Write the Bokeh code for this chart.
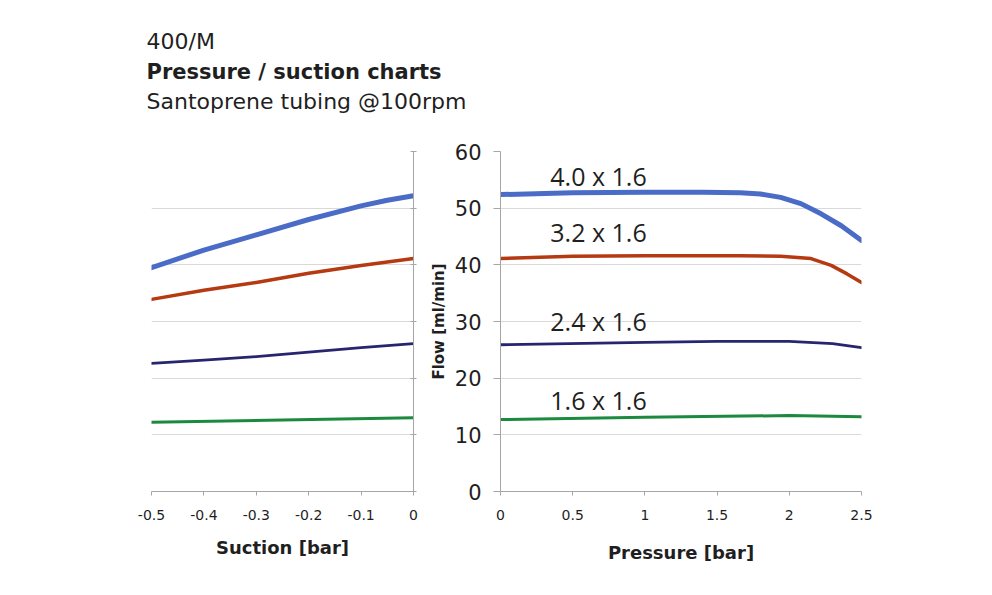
from bokeh.plotting import figure
from bokeh.layouts import row, column
from bokeh.models import Range1d, FixedTicker
from bokeh.core.properties import value
from bokeh.embed import file_html
from bokeh.resources import INLINE

# Suction chart data (left)
suction_x_blue = [-0.5, -0.4, -0.3, -0.2, -0.1, -0.05, 0.0]
suction_blue = [39.5, 42.6, 45.3, 48.0, 50.4, 51.4, 52.2]
suction_x_red = [-0.5, -0.4, -0.3, -0.2, -0.1, 0.0]
suction_red = [33.9, 35.5, 36.9, 38.5, 39.9, 41.1]
suction_x_navy = [-0.5, -0.4, -0.3, -0.2, -0.1, 0.0]
suction_navy = [22.6, 23.2, 23.8, 24.6, 25.4, 26.1]
suction_x_green = [-0.5, -0.25, 0.0]
suction_green = [12.2, 12.6, 13.0]

# Pressure chart data (right)
pressure_x_blue = [0.0, 0.5, 1.0, 1.4, 1.66, 1.8, 1.94, 2.08, 2.22, 2.36, 2.5]
pressure_blue = [52.4, 52.7, 52.8, 52.8, 52.7, 52.5, 51.9, 50.8, 49.0, 46.9, 44.3]
pressure_x_red = [0.0, 0.5, 1.0, 1.4, 1.66, 1.94, 2.15, 2.29, 2.4, 2.5]
pressure_red = [41.1, 41.5, 41.6, 41.6, 41.6, 41.5, 41.1, 39.9, 38.4, 36.9]
pressure_x_navy = [0.0, 1.0, 1.5, 2.0, 2.3, 2.5]
pressure_navy = [25.9, 26.3, 26.5, 26.5, 26.1, 25.4]
pressure_x_green = [0.0, 1.0, 2.0, 2.5]
pressure_green = [12.7, 13.1, 13.4, 13.2]

series_names = ["4.0 x 1.6", "3.2 x 1.6", "2.4 x 1.6", "1.6 x 1.6"]
series_label_x = [0.345, 0.345, 0.345, 0.345]
series_label_y = [55.6, 45.8, 30.1, 16.2]

suction_ticks = [-0.5, -0.4, -0.3, -0.2, -0.1, 0.0]
suction_tick_labels = {-0.5: "-0.5", -0.4: "-0.4", -0.3: "-0.3", -0.2: "-0.2", -0.1: "-0.1", 0.0: "0"}
pressure_ticks = [0.0, 0.5, 1.0, 1.5, 2.0, 2.5]
pressure_tick_labels = {0.0: "0", 0.5: "0.5", 1.0: "1", 1.5: "1.5", 2.0: "2", 2.5: "2.5"}
flow_ticks = [0, 10, 20, 30, 40, 50, 60]

title_lines = ["400/M", "Pressure / suction charts", "Santoprene tubing @100rpm"]

colors = ["#4a6cc6", "#b53a12", "#27256f", "#1b8a3e"]
widths = [5, 3.5, 2.8, 3]

GRID = "#d9d9d9"
AXIS = "#a6a6a6"
FONT = "DejaVu Sans"
TXT = "#1f1f1f"

TOP_H = 130
H = 460  # chart row height

# ---------- title strip ----------
pt = figure(width=880, height=TOP_H, output_backend="svg", toolbar_location=None,
            x_range=Range1d(0, 880), y_range=Range1d(TOP_H, 0),
            min_border=0)
pt.axis.visible = False
pt.grid.visible = False
pt.outline_line_color = None
pt.text(x=[146, 146], y=[41, 101], text=[title_lines[0], title_lines[2]],
        text_font=value(FONT), text_font_size="22px", text_color=TXT,
        text_baseline="alphabetic")
pt.text(x=[146], y=[71], text=[title_lines[1]],
        text_font=value(FONT), text_font_size="21px", text_color=TXT,
        text_baseline="alphabetic", text_font_style="bold")

frame_top = 151 - TOP_H
frame_bottom = 491 - TOP_H

# ---------- left: suction ----------
p1 = figure(width=426, height=H, output_backend="svg", toolbar_location=None,
            x_range=Range1d(-0.5, 0.0), y_range=Range1d(0, 60),
            y_axis_location="right",
            min_border_left=151, min_border_right=13,
            min_border_top=frame_top, min_border_bottom=H - frame_bottom)
p1.outline_line_color = None
p1.xgrid.grid_line_color = None
p1.ygrid.grid_line_color = GRID
p1.ygrid.ticker = FixedTicker(ticks=flow_ticks)
p1.yaxis.ticker = FixedTicker(ticks=flow_ticks)
p1.yaxis.major_label_overrides = {t: "" for t in flow_ticks}
p1.yaxis.major_label_text_font_size = "8px"
p1.yaxis.major_label_standoff = 0
p1.yaxis.major_tick_in = 3
p1.yaxis.major_tick_out = 3
p1.yaxis.minor_tick_line_color = None
p1.yaxis.axis_line_color = AXIS
p1.yaxis.major_tick_line_color = AXIS
p1.xaxis.ticker = FixedTicker(ticks=suction_ticks)
p1.xaxis.major_label_overrides = suction_tick_labels
p1.xaxis.minor_tick_line_color = None
p1.xaxis.major_tick_in = 0
p1.xaxis.major_tick_out = 4
p1.xaxis.axis_line_color = AXIS
p1.xaxis.major_tick_line_color = AXIS
p1.xaxis.major_label_text_font = FONT
p1.xaxis.major_label_text_font_size = "14px"
p1.xaxis.major_label_text_color = TXT
p1.xaxis.major_label_standoff = 14
p1.xaxis.axis_label = "Suction [bar]"
p1.xaxis.axis_label_text_font = FONT
p1.xaxis.axis_label_text_font_style = "bold"
p1.xaxis.axis_label_text_font_size = "18px"
p1.xaxis.axis_label_text_color = TXT
p1.xaxis.axis_label_standoff = 14

for xs, ys, c, w in [(suction_x_blue, suction_blue, colors[0], widths[0]),
                     (suction_x_red, suction_red, colors[1], widths[1]),
                     (suction_x_navy, suction_navy, colors[2], widths[2]),
                     (suction_x_green, suction_green, colors[3], widths[3])]:
    p1.line(xs, ys, line_color=c, line_width=w, line_join="round", line_cap="round")

# ---------- right: pressure ----------
p2 = figure(width=453, height=H, output_backend="svg", toolbar_location=None,
            x_range=Range1d(0.0, 2.5), y_range=Range1d(0, 60),
            min_border_left=73, min_border_right=453 - 73 - 362,
            min_border_top=frame_top, min_border_bottom=H - frame_bottom)
p2.outline_line_color = None
p2.xgrid.grid_line_color = None
p2.ygrid.grid_line_color = GRID
p2.ygrid.ticker = FixedTicker(ticks=flow_ticks)
p2.yaxis.ticker = FixedTicker(ticks=flow_ticks)
p2.yaxis.minor_tick_line_color = None
p2.yaxis.major_tick_in = 0
p2.yaxis.major_tick_out = 7
p2.yaxis.axis_line_color = AXIS
p2.yaxis.major_tick_line_color = AXIS
p2.yaxis.major_label_text_font = FONT
p2.yaxis.major_label_text_font_size = "21px"
p2.yaxis.major_label_text_color = TXT
p2.yaxis.major_label_standoff = 12
p2.yaxis.axis_label = "Flow [ml/min]"
p2.yaxis.axis_label_text_font = FONT
p2.yaxis.axis_label_text_font_style = "bold"
p2.yaxis.axis_label_text_font_size = "15px"
p2.yaxis.axis_label_text_color = TXT
p2.yaxis.axis_label_standoff = 4
p2.xaxis.ticker = FixedTicker(ticks=pressure_ticks)
p2.xaxis.major_label_overrides = pressure_tick_labels
p2.xaxis.minor_tick_line_color = None
p2.xaxis.major_tick_in = 0
p2.xaxis.major_tick_out = 4
p2.xaxis.axis_line_color = AXIS
p2.xaxis.major_tick_line_color = AXIS
p2.xaxis.major_label_text_font = FONT
p2.xaxis.major_label_text_font_size = "14px"
p2.xaxis.major_label_text_color = TXT
p2.xaxis.major_label_standoff = 14
p2.xaxis.axis_label = "Pressure [bar]"
p2.xaxis.axis_label_text_font = FONT
p2.xaxis.axis_label_text_font_style = "bold"
p2.xaxis.axis_label_text_font_size = "18px"
p2.xaxis.axis_label_text_color = TXT
p2.xaxis.axis_label_standoff = 19

for xs, ys, c, w in [(pressure_x_blue, pressure_blue, colors[0], widths[0]),
                     (pressure_x_red, pressure_red, colors[1], widths[1]),
                     (pressure_x_navy, pressure_navy, colors[2], widths[2]),
                     (pressure_x_green, pressure_green, colors[3], widths[3])]:
    p2.line(xs, ys, line_color=c, line_width=w, line_join="round", line_cap="round")

p2.text(x=series_label_x, y=series_label_y, text=series_names,
        text_font=value("Open Sans"), text_font_size="25px", text_color=TXT,
        text_baseline="alphabetic")

layout = column(pt, row(p1, p2))
open("out.html", "w").write(file_html(layout, INLINE))
